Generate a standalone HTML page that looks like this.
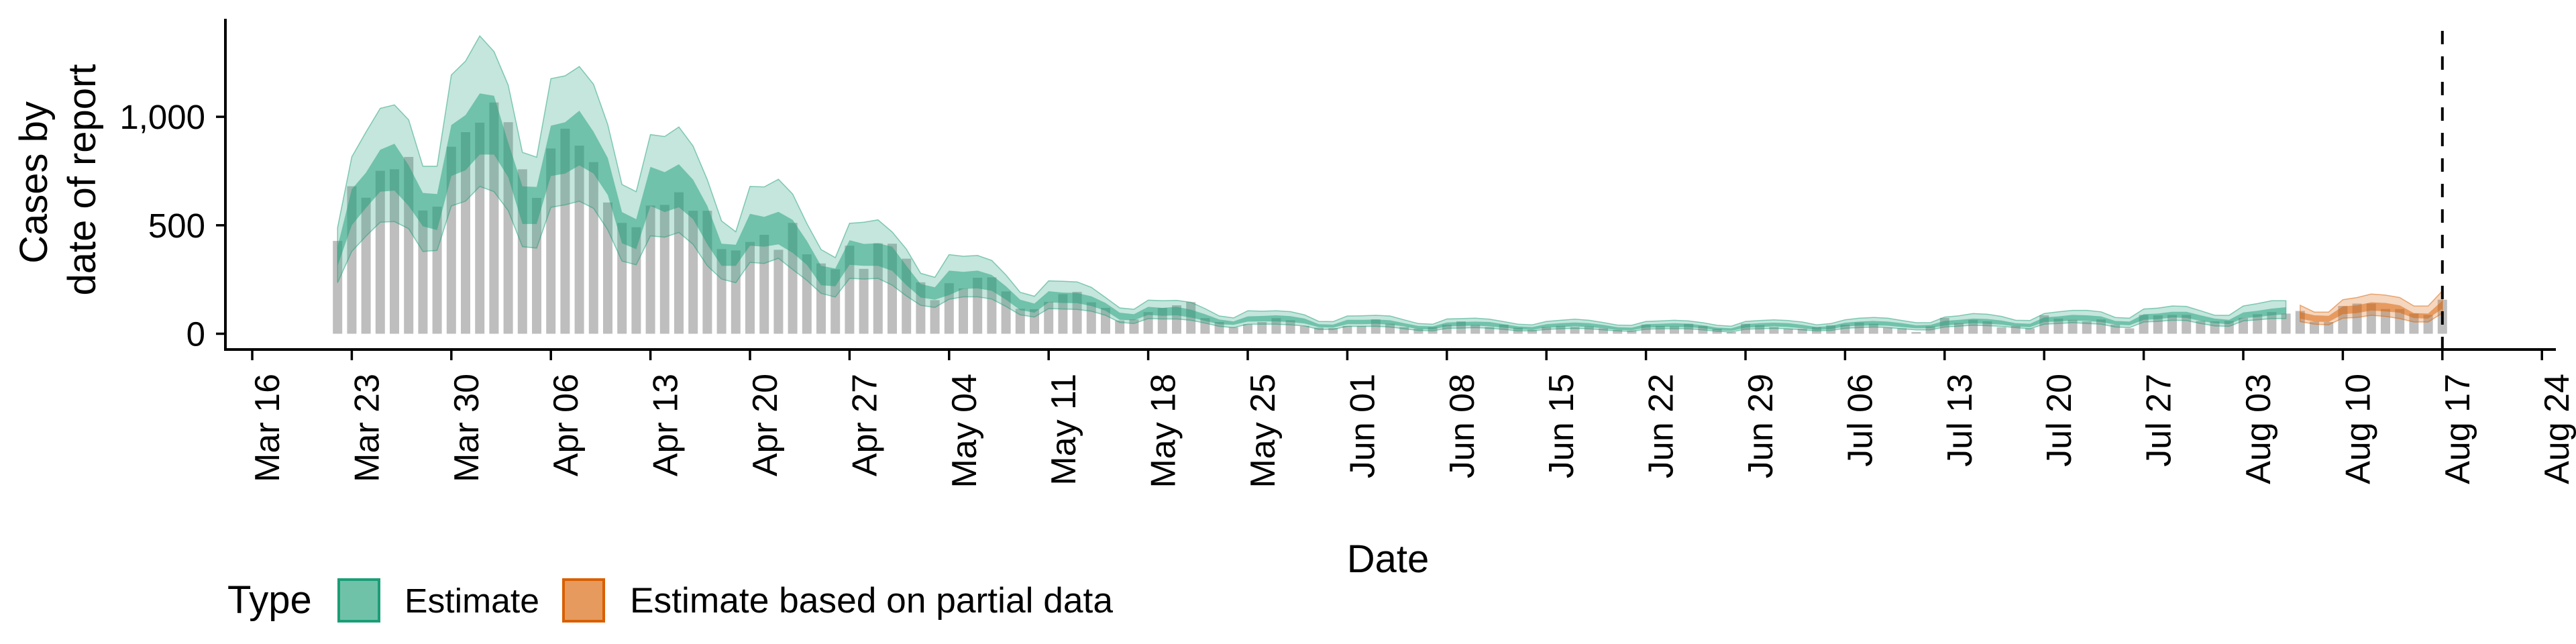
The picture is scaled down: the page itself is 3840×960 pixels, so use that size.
<!DOCTYPE html>
<html><head><meta charset="utf-8">
<style>
html,body{margin:0;padding:0;background:#fff;}
svg{display:block;font-family:"Liberation Sans",Arial,sans-serif;}
</style></head>
<body>
<svg id="chart" width="3840" height="960" viewBox="0 0 3840 960" xmlns="http://www.w3.org/2000/svg">
  <rect x="0" y="0" width="3840" height="960" fill="#fff"/>
  <g id="bars"></g>
  <g id="ribbons"></g>
  <g id="axes"></g>
  <text font-size="58" text-anchor="middle" transform="translate(70,272) rotate(-90)">Cases by</text>
  <text font-size="58" text-anchor="middle" transform="translate(142,268) rotate(-90)">date of report</text>
  <text font-size="58" text-anchor="middle" x="2069" y="853">Date</text>
  <g>
    <text x="339" y="914" font-size="58">Type</text>
    <rect x="505" y="864" width="60" height="62" fill="#6fc2a8" stroke="#1b9e77" stroke-width="4"/>
    <text x="603" y="913" font-size="51" textLength="201" lengthAdjust="spacingAndGlyphs">Estimate</text>
    <rect x="840" y="864" width="60" height="62" fill="#e69a5e" stroke="#d95f02" stroke-width="4"/>
    <text x="939" y="913" font-size="53" textLength="720" lengthAdjust="spacingAndGlyphs">Estimate based on partial data</text>
  </g>
</svg>
<script>
// day 0 = Mar 16; data runs from day 6 (Mar 22) to day 154 (Aug 17)
const firstDay = 6;
const partialStartDay = 144;
const reportDay = 154;
const cases = [428,680,627,751,758,815,568,586,862,929,973,1066,975,758,626,854,945,867,791,605,511,491,591,594,652,567,567,390,384,423,456,387,511,366,324,297,406,299,417,415,346,
237,155,233,209,258,260,195,115,
113,147,183,193,145,119,61,66,100,119,131,146,72,54,30,44,54,72,62,36,28,26,36,36,66,46,31,23,31,42,57,41,
31,42,28,18,31,36,31,34,25,18,15,42,36,34,46,36,23,8,46,39,31,23,23,31,39,42,52,46,28,25,8,34,
73,49,64,57,30,36,25,85,70,64,57,66,42,25,87,85,87,87,59,57,59,73,90,100,93,105,56,54,128,139,139,114,114,93,87,157];
const upper90 = [489,815,930,1039,1055,986,772,772,1193,1257,1373,1301,1146,836,814,1176,1189,1232,1150,964,688,655,918,909,953,865,710,520,470,679,677,712,644,508,388,351,509,514,525,469,390,
279,260,365,357,361,338,271,191,
173,244,242,239,214,167,119,113,155,152,154,145,116,82,73,106,104,106,102,87,57,56,82,83,85,82,64,47,44,68,70,72,
67,56,44,41,57,62,67,62,52,40,39,57,59,62,59,51,39,35,57,61,64,61,54,41,47,64,72,75,72,61,51,51,
77,83,93,90,80,62,61,93,101,108,108,101,75,72,114,118,128,126,106,85,85,128,139,152,152,131,100,100,157,167,183,178,167,128,128,198];
const upper50 = [401,666,743,848,876,776,649,644,962,1008,1108,1097,881,679,677,959,975,1028,931,810,561,528,769,745,781,710,589,415,410,553,539,562,525,428,313,301,431,414,417,401,313,
229,214,291,285,291,271,219,157,
139,196,190,188,173,142,97,90,124,119,124,111,90,66,57,80,82,85,81,70,44,42,64,64,66,62,49,36,34,52,54,56,
54,44,34,31,44,49,52,49,41,30,28,44,46,49,46,39,28,25,44,49,51,49,41,31,36,51,56,59,56,49,39,41,
59,64,70,68,61,49,46,75,80,87,85,80,59,56,90,93,101,101,85,70,64,98,106,116,122,100,85,83,126,131,145,142,131,95,93,152];
const lower50 = [313,500,580,655,660,589,495,478,727,754,826,826,721,506,506,727,738,776,738,639,417,390,589,561,583,528,412,313,313,406,401,412,373,318,224,219,318,313,313,290,224,
167,157,178,207,209,198,157,109,
97,145,142,141,128,106,64,62,87,83,85,75,59,44,41,56,57,57,54,47,30,28,44,44,46,42,34,21,20,34,36,38,
34,28,20,18,28,31,34,31,25,18,16,28,30,31,30,25,16,13,28,31,34,31,25,18,21,34,37,39,37,31,25,26,
38,44,49,46,42,34,30,54,57,61,59,54,42,39,64,67,75,73,59,49,44,72,77,85,90,70,56,54,90,95,107,103,97,72,70,116];
const lower90 = [235,379,450,514,517,484,379,384,589,611,679,655,567,401,395,583,594,611,578,478,335,318,451,445,467,412,313,252,235,329,324,348,296,246,186,169,255,252,255,224,174,
131,121,159,170,170,160,126,87,
77,116,114,112,104,85,52,47,70,68,68,62,49,34,28,44,44,44,41,36,20,20,34,34,34,31,23,15,13,25,26,28,
25,20,13,13,20,23,25,23,18,13,11,21,23,23,23,18,11,8,21,23,25,23,18,13,15,25,28,31,28,23,18,18,
31,35,39,37,34,28,23,44,47,51,47,44,31,28,54,57,62,61,47,36,34,59,64,70,70,56,44,41,72,75,85,80,70,54,54,95];
const xTickLabels = ["Mar 16","Mar 23","Mar 30","Apr 06","Apr 13","Apr 20","Apr 27","May 04","May 11","May 18","May 25","Jun 01","Jun 08","Jun 15","Jun 22","Jun 29","Jul 06","Jul 13","Jul 20","Jul 27","Aug 03","Aug 10","Aug 17","Aug 24"];
const yTicks = [0,500,1000];
const yTickLabels = ["0","500","1,000"];

const NS = "http://www.w3.org/2000/svg";
const X0 = 376, DAYW = 21.2, Y0 = 497.5, YK = 0.3234;
function xScale(d){ return X0 + d*DAYW; }
function yScale(v){ return Y0 - v*YK; }
function mk(tag, attrs, parent){
  const e = document.createElementNS(NS, tag);
  for (const k in attrs) e.setAttribute(k, attrs[k]);
  parent.appendChild(e);
  return e;
}
const gBars = document.getElementById('bars');
const gRib = document.getElementById('ribbons');
const gAx = document.getElementById('axes');

const bw = 14;
for (let i = 0; i < cases.length; i++) {
  const d = firstDay + i;
  const y = yScale(cases[i]);
  const r = mk('rect', {x: xScale(d) - bw/2, y: y, width: bw, height: Y0 - y, fill: '#bebebe'}, gBars);
  
  
}

function ribbon(hi, lo, i0, i1, fill, stroke){
  let pts = [];
  for (let i = i0; i <= i1; i++) pts.push(xScale(firstDay+i).toFixed(1)+','+yScale(hi[i]).toFixed(1));
  for (let i = i1; i >= i0; i--) pts.push(xScale(firstDay+i).toFixed(1)+','+yScale(lo[i]).toFixed(1));
  const attrs = {points: pts.join(' '), fill: fill};
  if (stroke) { attrs.stroke = stroke; attrs['stroke-width'] = 1.5; attrs['stroke-opacity'] = 0.5; }
  return mk('polygon', attrs, gRib);
}
const splitIdx = partialStartDay - firstDay;
const lastIdx = cases.length - 1;
const groups = [
  {a: 0, b: splitIdx - 1, col: '27,158,119', line: '#1b9e77', name: 'estimate'},
  {a: splitIdx, b: lastIdx, col: '217,95,2', line: '#d95f02', name: 'partial'}
];
groups.forEach(g => {
  const p90 = ribbon(upper90, lower90, g.a, g.b, 'rgba('+g.col+',0.26)', g.line);
  
  
  const p50 = ribbon(upper50, lower50, g.a, g.b, 'rgba('+g.col+',0.5)', null);
  
  
});

const dl = mk('line', {x1: xScale(reportDay), x2: xScale(reportDay), y1: 46, y2: 521, stroke: '#000', 'stroke-width': 4, 'stroke-dasharray': '20,18'}, gAx);



const ya = mk('line', {x1: 336, x2: 336, y1: 28, y2: 523, stroke: '#000', 'stroke-width': 4}, gAx);


const xa = mk('line', {x1: 334, x2: 3810, y1: 521, y2: 521, stroke: '#000', 'stroke-width': 4}, gAx);



yTicks.forEach((v, i) => {
  const y = yScale(v);
  const t = mk('line', {x1: 322, x2: 336, y1: y, y2: y, stroke: '#000', 'stroke-width': 3.5}, gAx);
  
  
  const l = mk('text', {x: 306, y: y + 18, 'font-size': 51, 'text-anchor': 'end', fill: '#000'}, gAx);
  l.textContent = yTickLabels[i];
  
  
});

xTickLabels.forEach((lab, i) => {
  const x = xScale(i*7);
  const t = mk('line', {x1: x, x2: x, y1: 521, y2: 537, stroke: '#000', 'stroke-width': 3.5}, gAx);
  
  
  const l = mk('text', {'font-size': 52, 'text-anchor': 'end', fill: '#000', transform: 'translate(' + (x + 40) + ',557) rotate(-90)'}, gAx);
  l.textContent = lab;
  
  
});
</script>
</body></html>
